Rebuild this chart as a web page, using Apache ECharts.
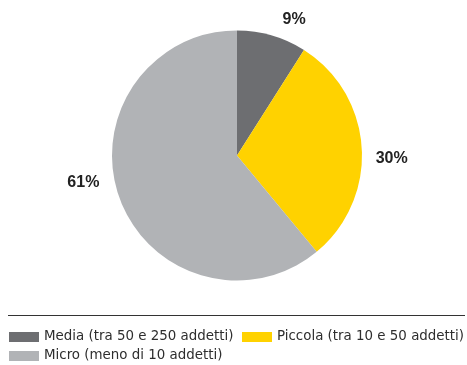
<!DOCTYPE html>
<html>
<head>
<meta charset="utf-8">
<script src="https://cdn.jsdelivr.net/npm/echarts@6/dist/echarts.min.js"></script>
<style>html,body{margin:0;padding:0;background:#fff}#c{width:467px;height:365px}</style>
</head>
<body>
<div id="c"></div>
<script>
var categories = ['Media (tra 50 e 250 addetti)', 'Piccola (tra 10 e 50 addetti)', 'Micro (meno di 10 addetti)'];
var values = [9, 30, 61];
var colors = ['#6d6e71', '#ffd200', '#b1b3b6'];
var labelOffsets = [[-5, 0], [-14, 12], [7, -21]];

var chart = echarts.init(document.getElementById('c'), null, {renderer: 'canvas'});
var data = categories.map(function (c, i) {
  return {
    name: c, value: values[i],
    itemStyle: {color: colors[i]},
    label: {offset: labelOffsets[i]}
  };
});
function legendFor(i, left, top) {
  return {
    data: [categories[i]], left: left, top: top, padding: 0, orient: 'horizontal',
    itemWidth: 30, itemHeight: 10, itemGap: 0, icon: 'rect',
    selectedMode: false,
    textStyle: {fontFamily: 'DejaVu Sans', fontSize: 13.4, color: '#2e2e2e', lineHeight: 14, padding: [0, 0, 0, 0]}
  };
}
chart.setOption({
  animation: false,
  backgroundColor: '#fff',
  legend: [legendFor(0, 9, 330), legendFor(1, 242, 330), legendFor(2, 9, 349)],
  graphic: [{
    type: 'line', shape: {x1: 8, y1: 315.5, x2: 465, y2: 315.5},
    style: {stroke: '#333', lineWidth: 1}
  }],
  series: [{
    type: 'pie',
    center: [237, 155.5],
    radius: [0, 125],
    startAngle: 90,
    clockwise: true,
    avoidLabelOverlap: false,
    label: {
      show: true, position: 'outside', formatter: '{c}%',
      fontFamily: 'Liberation Sans', fontWeight: 'bold', fontSize: 16, color: '#222'
    },
    labelLine: {show: false, length: 17, length2: 6},
    emphasis: {disabled: true},
    data: data
  }]
});
</script>
</body>
</html>
